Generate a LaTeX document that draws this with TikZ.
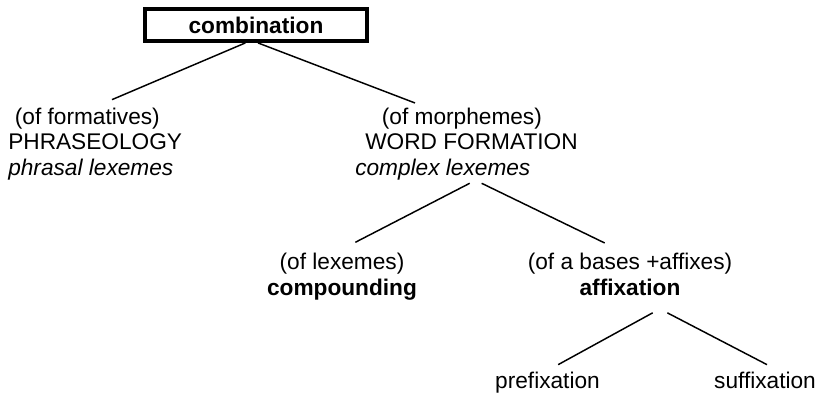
\documentclass[tikz,border=0pt]{standalone}
\usepackage{fontspec}
\setmainfont{Liberation Sans}

\begin{document}
\begin{tikzpicture}[
		x=0.75pt, y=-0.75pt,
		every node/.style={font=\fontsize{17}{19}\selectfont, inner sep=0pt},
		rootbox/.style={draw, line width=3.2pt, minimum width=166.5pt, minimum height=23.7pt, font=\fontsize{17}{19}\selectfont\bfseries},
		branch/.style={line width=1.1pt}
	]
	\useasboundingbox (0,0) rectangle (820,396);
	\node[rootbox] (comb) at (256,25) {combination};
	\node[align=left, anchor=base west] (phr) at (8,175) {\hspace*{5pt}(of formatives)\\PHRASEOLOGY\\\textit{phrasal lexemes}};
	\node[align=left, anchor=base west] (wf) at (355,175) {\hspace*{20pt}(of morphemes)\\\hspace*{7.5pt}WORD FORMATION\\\textit{complex lexemes}};
	\node[align=center, anchor=base] (lex) at (342,295) {(of lexemes)\\\textbf{compounding}};
	\node[align=center, anchor=base] (aff) at (630,295) {(of a bases +affixes)\\\textbf{affixation}};
	\node[anchor=base] (pre) at (547.5,388) {prefixation};
	\node[anchor=base] (suf) at (765,388) {suffixation};
	\draw[branch] ([xshift=-8pt]comb.south) -- ([xshift=78pt,yshift=6pt]phr.north west);
	\draw[branch] ([xshift=1.5pt]comb.south) -- ([xshift=45pt,yshift=3.5pt]wf.north west);
	\draw[branch] ([xshift=86pt,yshift=-2.5pt]wf.south west) -- ([xshift=10pt,yshift=8pt]lex.north);
	\draw[branch] ([xshift=95pt,yshift=-2.5pt]wf.south west) -- ([xshift=-19pt,yshift=7.5pt]aff.north);
	\draw[branch] ([xshift=17pt,yshift=-13pt]aff.south) -- ([xshift=8pt,yshift=5pt]pre.north);
	\draw[branch] ([xshift=28pt,yshift=-13pt]aff.south) -- ([xshift=1.5pt,yshift=5pt]suf.north);
\end{tikzpicture}
\end{document}
